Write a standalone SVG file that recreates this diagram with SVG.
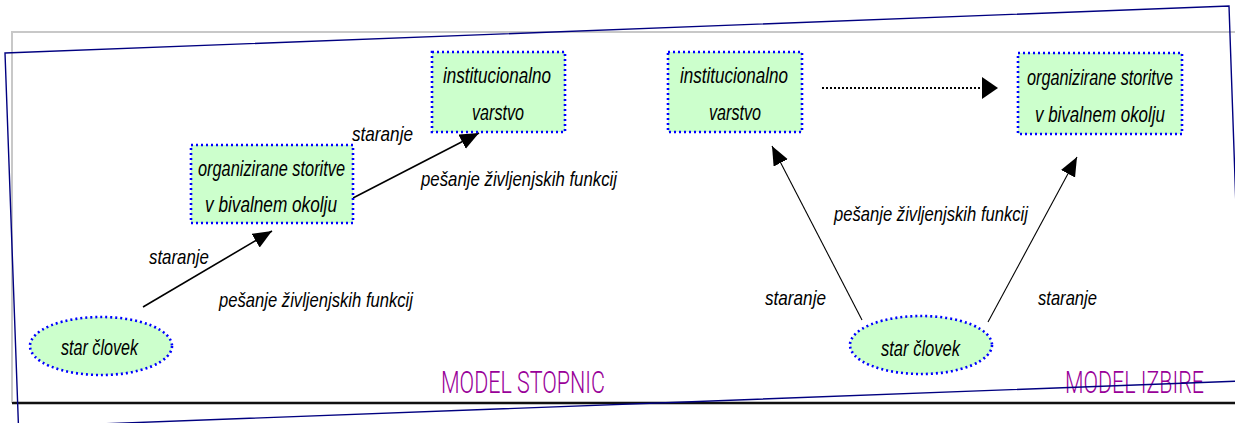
<svg xmlns="http://www.w3.org/2000/svg" width="1235" height="423" viewBox="0 0 1235 423">
<style>
.bg{fill:#ffffff}
.node{fill:#ccffcc;stroke:#0000ff;stroke-width:2.6;stroke-dasharray:2 3}
.t{font-family:"Liberation Sans",Arial,sans-serif;font-style:italic;fill:#000000}
.nt{font-size:22px}
.lt{font-size:21px}
.conn{fill:none;stroke:#000000;stroke-width:1.6}
.thin{fill:none;stroke:#000000;stroke-width:1.1}
.dot{fill:none;stroke:#000000;stroke-width:2;stroke-dasharray:2 2}
.model{font-family:Roboto,"DejaVu Sans","Liberation Sans",sans-serif;font-weight:300;font-size:32px;fill:#990099}
.frame{fill:none;stroke:#c8c8c8;stroke-width:2}
.skew{fill:none;stroke:#000080;stroke-width:1.4}
</style>
<defs>
<marker id="ah" markerUnits="userSpaceOnUse" markerWidth="20" markerHeight="18" refX="19" refY="8" orient="auto">
<path d="M0,0 L19,8 L0,16 z" fill="#000000"/>
</marker>
<marker id="ahw" markerUnits="userSpaceOnUse" markerWidth="18" markerHeight="24" refX="16" refY="11" orient="auto">
<path d="M0,0 L16,11 L0,22 z" fill="#000000"/>
</marker>
</defs>
<rect class="bg" x="0" y="0" width="1235" height="423"/>
<g id="frame">
<path class="frame" d="M12,403 L12,32 L1235,32"/>
<line x1="12" y1="403" x2="1235" y2="403" stroke="#c0c0c0" stroke-width="4"/>
<line x1="12" y1="403" x2="1235" y2="403" stroke="#111111" stroke-width="2"/>
</g>
<g id="connectors">
<line class="conn" x1="143" y1="307" x2="272" y2="231" marker-end="url(#ah)"/>
<line class="conn" x1="353" y1="198" x2="479" y2="133" marker-end="url(#ah)"/>
<line class="dot" x1="822" y1="88" x2="998" y2="88" marker-end="url(#ahw)"/>
<line class="thin" x1="862" y1="320" x2="772" y2="146" marker-end="url(#ah)"/>
<line class="thin" x1="988" y1="322" x2="1077" y2="157" marker-end="url(#ah)"/>
</g>
<g id="labels">
<text class="t lt" x="352" y="141" textLength="61" lengthAdjust="spacingAndGlyphs">staranje</text>
<text class="t lt" x="421" y="186" textLength="196" lengthAdjust="spacingAndGlyphs">pešanje življenjskih funkcij</text>
<text class="t lt" x="149" y="264" textLength="60" lengthAdjust="spacingAndGlyphs">staranje</text>
<text class="t lt" x="219" y="307" textLength="194" lengthAdjust="spacingAndGlyphs">pešanje življenjskih funkcij</text>
<text class="t lt" x="834" y="221" textLength="194" lengthAdjust="spacingAndGlyphs">pešanje življenjskih funkcij</text>
<text class="t lt" x="765" y="305" textLength="61" lengthAdjust="spacingAndGlyphs">staranje</text>
<text class="t lt" x="1038" y="305" textLength="59" lengthAdjust="spacingAndGlyphs">staranje</text>
</g>
<g id="node-stopnic-institucionalno">
<rect class="node" x="432" y="52" width="133" height="80"/>
<text class="t nt" x="443" y="83" textLength="108" lengthAdjust="spacingAndGlyphs">institucionalno</text>
<text class="t nt" x="472" y="120" textLength="52" lengthAdjust="spacingAndGlyphs">varstvo</text>
</g>
<g id="node-stopnic-organizirane">
<rect class="node" x="191" y="145" width="162" height="78"/>
<text class="t nt" x="198" y="176" textLength="147" lengthAdjust="spacingAndGlyphs">organizirane storitve</text>
<text class="t nt" x="205" y="212" textLength="132" lengthAdjust="spacingAndGlyphs">v bivalnem okolju</text>
</g>
<g id="node-stopnic-clovek">
<ellipse class="node" cx="101" cy="346" rx="71" ry="29"/>
<text class="t nt" x="61" y="355" textLength="77" lengthAdjust="spacingAndGlyphs">star človek</text>
</g>
<g id="node-izbire-institucionalno">
<rect class="node" x="668" y="52" width="134" height="80"/>
<text class="t nt" x="680" y="83" textLength="108" lengthAdjust="spacingAndGlyphs">institucionalno</text>
<text class="t nt" x="709" y="120" textLength="52" lengthAdjust="spacingAndGlyphs">varstvo</text>
</g>
<g id="node-izbire-organizirane">
<rect class="node" x="1018" y="53" width="164" height="81"/>
<text class="t nt" x="1027" y="85" textLength="146" lengthAdjust="spacingAndGlyphs">organizirane storitve</text>
<text class="t nt" x="1035" y="122" textLength="130" lengthAdjust="spacingAndGlyphs">v bivalnem okolju</text>
</g>
<g id="node-izbire-clovek">
<ellipse class="node" cx="921" cy="345" rx="71" ry="29"/>
<text class="t nt" x="881" y="356" textLength="79" lengthAdjust="spacingAndGlyphs">star človek</text>
</g>
<g id="titles">
<text class="model" x="441" y="393" textLength="164" lengthAdjust="spacingAndGlyphs">MODEL STOPNIC</text>
<text class="model" x="1065" y="393" textLength="139" lengthAdjust="spacingAndGlyphs">MODEL IZBIRE</text>
</g>
<polygon class="skew" points="5,53 1229,6 1242,381 18.5,427"/>
</svg>
